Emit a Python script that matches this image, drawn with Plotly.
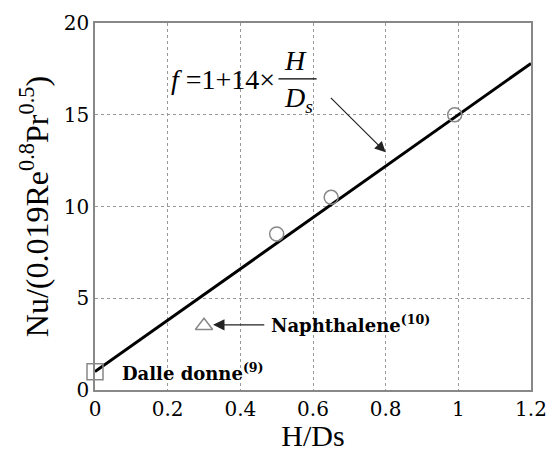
import plotly.graph_objects as go

# data
fit_x = [0.0, 1.2]
fit_y = [1 + 14 * v for v in fit_x]
circ_x = [0.5, 0.65, 0.99]
circ_y = [8.5, 10.5, 15.0]
tri_x = [0.3]
tri_y = [3.5]
sq_x = [0.0]
sq_y = [1.0]
xticks = [0, 0.2, 0.4, 0.6, 0.8, 1.0, 1.2]
xtick_text = ["0", "0.2", "0.4", "0.6", "0.8", "1", "1.2"]
yticks = [0, 5, 10, 15, 20]

TIMES = "Liberation Serif, serif"
DEJA = "DejaVu Serif, serif"
fig = go.Figure()
fig.add_trace(go.Scatter(x=fit_x, y=fit_y, mode="lines", cliponaxis=False,
                         line=dict(color="black", width=3), showlegend=False))
fig.add_trace(go.Scatter(x=circ_x, y=circ_y, mode="markers", cliponaxis=False,
                         marker=dict(symbol="circle-open", size=14, color="#888",
                                     line=dict(width=1.5)), showlegend=False))
fig.add_trace(go.Scatter(x=tri_x, y=tri_y, mode="markers", cliponaxis=False,
                         marker=dict(symbol="triangle-up-open", size=15, color="#888",
                                     line=dict(width=1.5)), showlegend=False))
fig.add_trace(go.Scatter(x=sq_x, y=sq_y, mode="markers", cliponaxis=False,
                         marker=dict(symbol="square-open", size=16, color="#888",
                                     line=dict(width=1.5)), showlegend=False))

ann = [
    dict(x=0.205, y=16.94, text="<i>f</i> =1+14×", xanchor="left", yanchor="middle",
         showarrow=False, font=dict(family=TIMES, size=28, color="black")),
    dict(x=0.553, y=17.95, text="<i>H</i>", xanchor="center", yanchor="middle",
         showarrow=False, font=dict(family=TIMES, size=28, color="black")),
    dict(x=0.56, y=15.85, text="<i>D<sub>s</sub></i>", xanchor="center", yanchor="middle",
         showarrow=False, font=dict(family=TIMES, size=28, color="black")),
    dict(x=0.80, y=12.95, ax=0.645, ay=16.0, xref="x", yref="y", axref="x", ayref="y",
         text="", showarrow=True, arrowhead=2, arrowsize=1.8, arrowwidth=1.2,
         arrowcolor="#222"),
    dict(x=0.325, y=3.55, ax=0.47, ay=3.55, xref="x", yref="y", axref="x", ayref="y",
         text="", showarrow=True, arrowhead=2, arrowsize=1.9, arrowwidth=1.2,
         arrowcolor="#222"),
    dict(x=0.478, y=3.6, text="<b>Naphthalene<sup>(10)</sup></b>", xanchor="left",
         yanchor="middle", showarrow=False,
         font=dict(family=DEJA, size=18, color="black")),
    dict(x=0.068, y=1.0, text="<b>Dalle donne<sup>(9)</sup></b>", xanchor="left",
         yanchor="middle", showarrow=False,
         font=dict(family=DEJA, size=18, color="black")),
]

fig.update_layout(
    width=553, height=452,
    margin=dict(l=95, r=22, t=23, b=62),
    plot_bgcolor="white", paper_bgcolor="white",
    font=dict(family=DEJA, color="black", size=20),
    annotations=ann,
    shapes=[dict(type="line", xref="x", yref="y", x0=0.505, x1=0.61, y0=16.95, y1=16.95,
                 line=dict(color="black", width=1.3))],
    xaxis=dict(range=[0, 1.2], tickvals=xticks, ticktext=xtick_text, automargin=False,
               showgrid=True, gridcolor="#999", griddash="dot", gridwidth=1,
               showline=True, linecolor="#888", mirror=True, linewidth=1.5,
               zeroline=False, ticks="",
               title=dict(text="H/Ds", font=dict(family=TIMES, size=30), standoff=10),
               tickfont=dict(family=DEJA, size=20)),
    yaxis=dict(range=[0, 20], tickvals=yticks, automargin=False,
               showgrid=True, gridcolor="#999", griddash="dot", gridwidth=1,
               showline=True, linecolor="#888", mirror=True, linewidth=1.5,
               zeroline=False, ticks="",
               title=dict(text="Nu/(0.019Re<sup>0.8</sup>Pr<sup>0.5</sup>)",
                          font=dict(family=TIMES, size=32), standoff=6),
               tickfont=dict(family=DEJA, size=20)),
)
fig.write_html("out.html")
